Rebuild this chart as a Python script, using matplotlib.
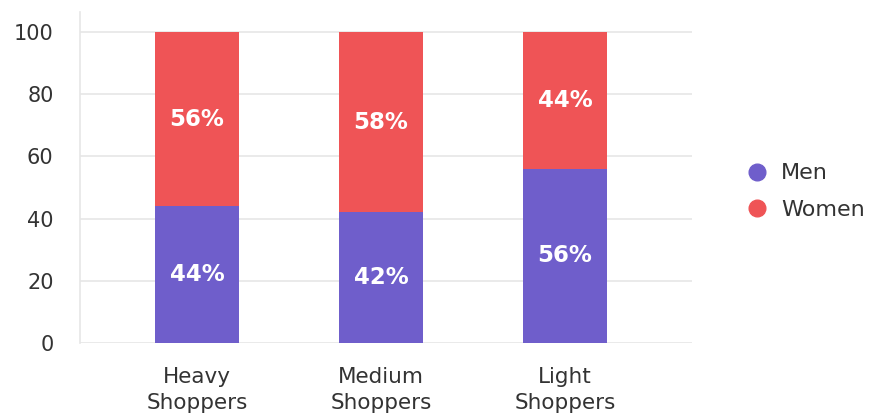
import matplotlib.pyplot as plt
from matplotlib.lines import Line2D
import numpy as np

categories = ['Heavy\nShoppers', 'Medium\nShoppers', 'Light\nShoppers']
men = [44, 42, 56]
women = [56, 58, 44]

men_color = '#6F5ECB'
women_color = '#EF5456'

plt.rcParams['font.family'] = ['DejaVu Sans']

fig = plt.figure(figsize=(8.85, 4.17), dpi=100)
ax = fig.add_axes([0.0904, 0.1775, 0.6916, 0.7935])

x = np.arange(len(categories))
w = 0.46
ax.bar(x, men, w, color=men_color, zorder=3)
ax.bar(x, women, w, bottom=men, color=women_color, zorder=3)

for i in range(len(categories)):
    ax.text(x[i], men[i] / 2, f'{men[i]}%', ha='center', va='center',
            color='white', fontsize=16.5, fontweight='bold', zorder=4)
    ax.text(x[i], men[i] + women[i] / 2, f'{women[i]}%', ha='center', va='center',
            color='white', fontsize=16.5, fontweight='bold', zorder=4)

ax.set_xlim(-0.636, 2.69)
ax.set_ylim(0, 106.4)
ax.set_yticks(range(0, 101, 20))
ax.set_xticks(x)
ax.set_xticklabels(categories, fontsize=15.5, color='#333333', linespacing=1.4)
ax.tick_params(axis='y', labelsize=15, colors='#333333', length=0, pad=19)
ax.tick_params(axis='x', length=0, pad=17)

for v in range(0, 101, 20):
    ax.axhline(v, color='#E6E6E6', lw=1.2, zorder=1)

for s in ['top', 'right', 'bottom']:
    ax.spines[s].set_visible(False)
ax.spines['left'].set_color('#E6E6E6')
ax.spines['left'].set_linewidth(1.2)

handles = [Line2D([], [], marker='o', ls='', color=men_color, markersize=12),
           Line2D([], [], marker='o', ls='', color=women_color, markersize=12)]
fig.legend(handles, ['Men', 'Women'], loc='center left', bbox_to_anchor=(0.82, 0.54),
           frameon=False, fontsize=16, handletextpad=0.1, labelspacing=0.75,
           labelcolor='#333333', borderaxespad=0)

fig.savefig('out.png', dpi=100)
